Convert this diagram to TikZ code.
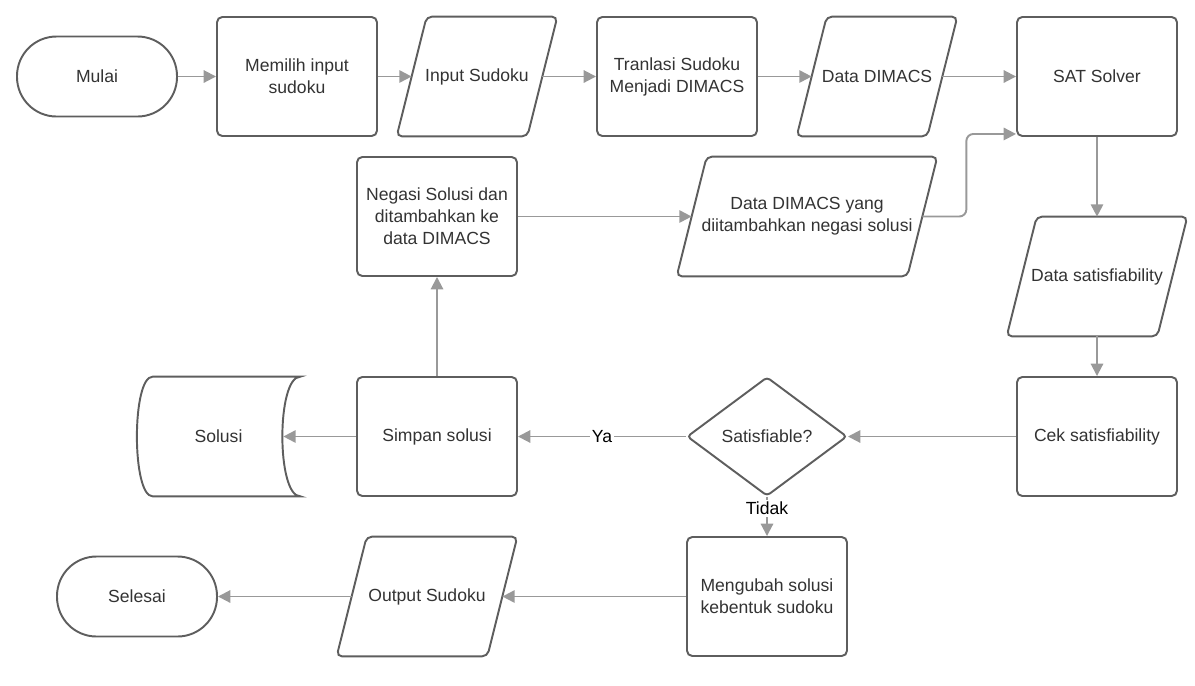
\documentclass[tikz,border=0pt]{standalone}
\usepackage{fontspec}
\setmainfont{Liberation Sans}
\usetikzlibrary{shapes.geometric,arrows.meta}

\definecolor{edgegray}{HTML}{5E5E5E}
\definecolor{arrowgray}{HTML}{999999}
\definecolor{txtgray}{HTML}{333333}

\begin{document}
\begin{tikzpicture}
	[
		font=\fontsize{10}{12.5}\selectfont,
		text=txtgray,
		align=center,
		base/.style={draw=edgegray, line width=1.1pt, fill=white, inner sep=2pt},
		process/.style={base, rectangle, rounded corners=3pt, minimum width=3.2cm, minimum height=2.38cm},
		terminal/.style={base, rectangle, rounded corners=0.79cm, minimum width=3.2cm, minimum height=1.6cm},
		io/.style={rectangle, inner sep=2pt, minimum height=2.38cm,
			append after command={\pgfextra{\draw[edgegray, line width=1.1pt, rounded corners=3pt]
				([xshift=0.3cm]\tikzlastnode.north west) -- ([xshift=0.3cm]\tikzlastnode.north east)
				-- ([xshift=-0.3cm]\tikzlastnode.south east) -- ([xshift=-0.3cm]\tikzlastnode.south west) -- cycle;}}},
		decision/.style={base, diamond, aspect=1.34, rounded corners=2pt,
			minimum width=3.2cm, minimum height=2.38cm, inner sep=0pt},
		store/.style={draw=none, minimum width=3.26cm, minimum height=2.38cm},
		lbl/.style={fill=white, inner sep=1pt, text=black},
		arrow/.style={-{Triangle[length=7pt,width=7pt]}, draw=arrowgray, line width=1.1pt}
	]

	\useasboundingbox (0,0) rectangle (23.9,-13.7);

	% top row
	\node[terminal] (mulai) at ( 1.94, -1.53) {Mulai};
	\node[process] (memilih) at ( 5.94, -1.53) {Memilih input\\sudoku};
	\node[io, minimum width=2.6cm] (input) at ( 9.54, -1.53) {Input Sudoku};
	\node[process] (tranlasi) at (13.54, -1.53) {Tranlasi Sudoku\\Menjadi DIMACS};
	\node[io, minimum width=2.6cm] (dimacs) at (17.54, -1.53) {Data DIMACS};
	\node[process] (sat) at (21.94, -1.53) {SAT Solver};

	% second row
	\node[process] (negasi) at ( 8.74, -4.33) {Negasi Solusi dan\\ditambahkan ke\\data DIMACS};
	\node[io, minimum width=4.6cm] (dimacsneg) at (16.14, -4.33) {Data DIMACS yang\\diitambahkan negasi solusi};
	\node[io, minimum width=3.0cm] (satdata) at (21.94, -5.53) {Data satisfiability};

	% third row
	\node[store] (solusi) at ( 4.37, -8.73) {Solusi};
	\node[process] (simpan) at ( 8.74, -8.73) {Simpan solusi};
	\node[decision] (cekq) at (15.34, -8.73) {Satisfiable?};
	\node[process] (cek) at (21.94, -8.73) {Cek satisfiability};

	% bottom row
	\node[terminal] (selesai) at ( 2.74, -11.93) {Selesai};
	\node[io, minimum width=3.0cm] (output) at ( 8.54, -11.93) {Output Sudoku};
	\node[process] (ubah) at (15.34, -11.93) {Mengubah solusi\\kebentuk sudoku};

	% stored data outline
	\draw[edgegray, line width=1.1pt]
		([xshift=0.32cm]solusi.north west) -- (solusi.north east)
		.. controls ([xshift=-0.48cm]solusi.north east) and ([xshift=-0.48cm]solusi.south east) .. (solusi.south east)
		-- ([xshift=0.32cm]solusi.south west)
		.. controls ([xshift=-0.1cm]solusi.south west) and ([xshift=-0.1cm]solusi.north west) .. cycle;
	\coordinate (solusiin) at ([xshift=-0.34cm]solusi.east);

	% connectors
	\foreach \from/\to in {mulai/memilih,memilih/input,input/tranlasi,tranlasi/dimacs,dimacs/sat,
		sat/satdata,satdata/cek,cek/cekq,simpan/negasi,negasi/dimacsneg,ubah/output,output/selesai}
	\draw[arrow] (\from) -- (\to);

	\draw[arrow] (simpan) -- (solusiin);
	\draw[arrow] (cekq) -- node[lbl] {Ya} (simpan);
	\draw[arrow] (cekq) -- node[lbl, pos=0.3] {Tidak} (ubah);
	\draw[arrow, rounded corners=4pt] (dimacsneg.east) -- ++(0.88,0) |- ([yshift=0.06cm]sat.south west);

\end{tikzpicture}
\end{document}
